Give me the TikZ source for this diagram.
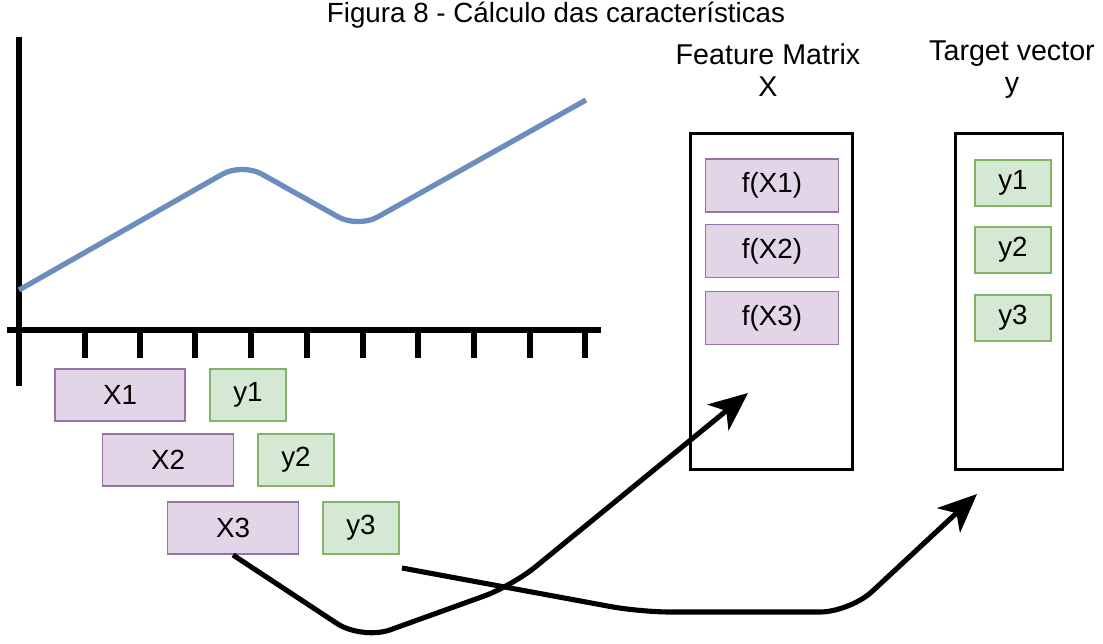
\documentclass[tikz,border=0pt]{standalone}
\usepackage{fontspec}
\setmainfont{Liberation Sans}
\usetikzlibrary{arrows.meta}
\definecolor{lilacfill}{HTML}{E1D5E7}
\definecolor{lilacline}{HTML}{9673A6}
\definecolor{mintfill}{HTML}{D5E8D4}
\definecolor{mintline}{HTML}{82B366}
\definecolor{curveblue}{HTML}{6C8EBF}
\tikzset{
  xbox/.style  = {draw=lilacline, fill=lilacfill, line width=1.1pt,
                  minimum height=1.04cm, font=\fontsize{15.8}{18}\selectfont},
  ybox/.style  = {draw=mintline, fill=mintfill, line width=1.1pt,
                  minimum width=1.52cm, font=\fontsize{15.8}{18}\selectfont},
  holder/.style = {draw, line width=1.7pt, minimum height=6.74cm},
  caption/.style = {align=center, font=\fontsize{16.3}{18.2}\selectfont},
  axisline/.style = {line width=3.2pt},
  flow/.style  = {line width=2.9pt, rounded corners=0.6cm,
                  -{Stealth[length=22pt, width=19pt, inset=6pt]}}
}

\begin{document}
\begin{tikzpicture}[x=0.02cm, y=-0.02cm]
\useasboundingbox (0,0) rectangle (1103,643);
\node[font=\fontsize{15.8}{18}\selectfont] (title) at (556,15)
  {Figura 8 - Cálculo das características};

% chart
\draw[axisline] (19,37) -- (19,386);
\draw[axisline] (7,330) -- (601,330);
\foreach \tx in {85,140,195,251,307,363,418,474,530,585}
  \draw[axisline] (\tx,330) -- (\tx,358);
\draw[curveblue, line width=3pt, rounded corners=0.45cm]
  (19,290) -- (242,163) -- (358,228) -- (586,100);

% sliding windows
\node[xbox, minimum width=2.6cm]  (X1) at (120,395) {X1};
\node[ybox, minimum height=1.04cm] (y1) at (248,395) {y1};
\node[xbox, minimum width=2.62cm] (X2) at (168,460) {X2};
\node[ybox, minimum height=1.04cm] (y2) at (296,460) {y2};
\node[xbox, minimum width=2.62cm] (X3) at (233,528) {X3};
\node[ybox, minimum height=1.04cm] (y3) at (361,528) {y3};

% feature matrix and target vector
\node[holder, minimum width=3.26cm] (fmat) at (771.5,301.5) {};
\node[holder, minimum width=2.16cm] (tvec) at (1009,301.5) {};
\node[caption] (fmatlbl) at (768,70) {Feature Matrix\\X};
\node[caption] (tveclbl) at (1012,70) {Target vector\\y};

\node[xbox, minimum width=2.66cm, minimum height=1.06cm] (fX1) at (772,185.5) {f(X1)};
\node[xbox, minimum width=2.66cm, minimum height=1.06cm] (fX2) at (772,251) {f(X2)};
\node[xbox, minimum width=2.66cm, minimum height=1.06cm] (fX3) at (772,318) {f(X3)};
\node[ybox, minimum height=0.92cm] (ty1) at (1013,183) {y1};
\node[ybox, minimum height=0.92cm] (ty2) at (1013,250) {y2};
\node[ybox, minimum height=0.92cm] (ty3) at (1013,318) {y3};

% arrows
\coordinate (fmatin) at (748,393);
\coordinate (tvecin) at (977,494);
\coordinate (y3out)  at (402,568);
\draw[flow] (X3.south) -- (362,640) -- (512,586) -- (fmatin);
\draw[flow] (y3out) -- (640,612) -- (850,612) -- (tvecin);
\end{tikzpicture}
\end{document}
